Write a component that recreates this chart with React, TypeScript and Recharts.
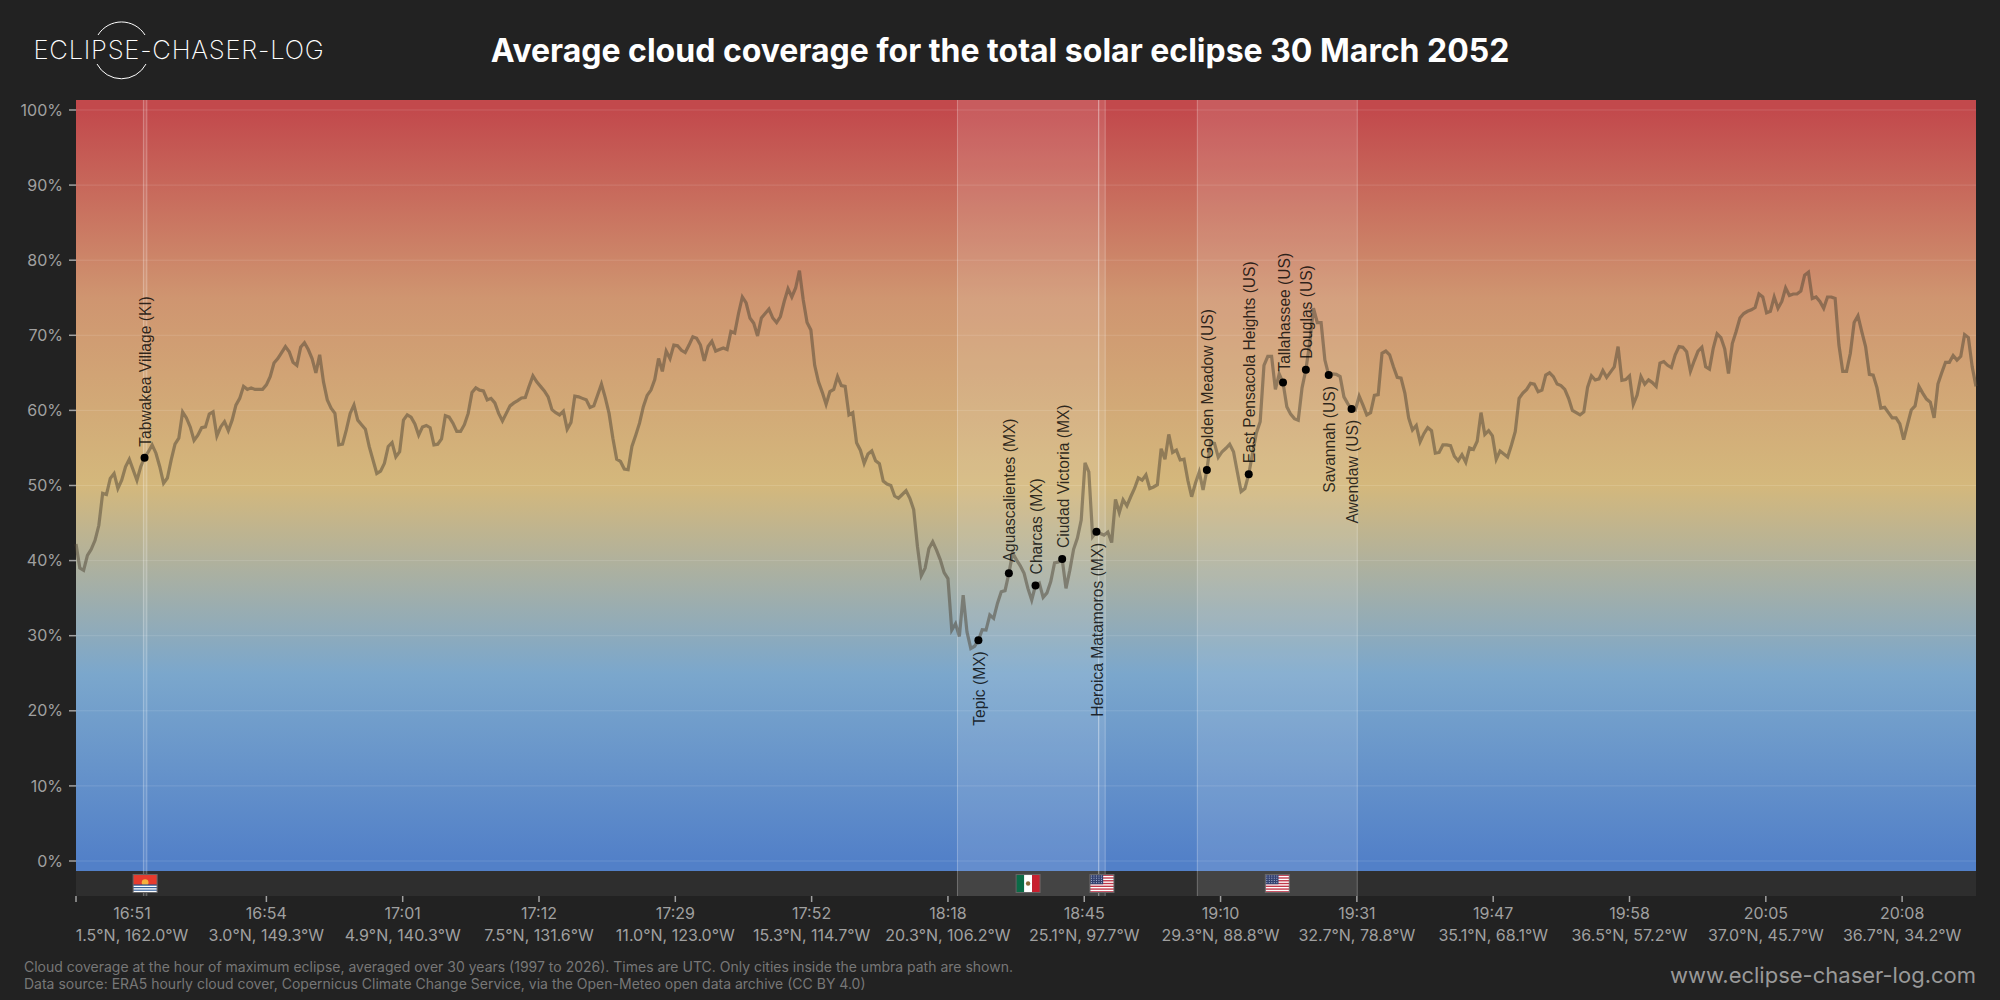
import { ComposedChart, Line, Scatter, XAxis, YAxis, ReferenceArea, ReferenceLine, ReferenceDot } from "recharts"

// cloud cover in %, one sample per step along the umbra path
const cloudCover = [
  42.2, 39, 38.7, 40.7, 41.5, 42.7, 44.7, 48.95, 48.8, 50.95, 51.6, 49.6, 50.7, 52.5, 53.5, 52.1, 50.7, 52.5, 53.7, 54.5,
  55.4, 54.3, 52.5, 50.3, 51, 53.4, 55.5, 56.3, 59.8, 59, 57.8, 56, 56.7, 57.7, 57.8, 59.5, 59.8, 56.6, 57.8, 58.5,
  57.3, 58.7, 60.7, 61.6, 63.2, 62.8, 63, 62.8, 62.8, 62.8, 63.4, 64.5, 66.3, 66.9, 67.7, 68.5, 67.8, 66.4, 66, 68.4,
  69, 68.1, 66.9, 65, 67.4, 63.8, 61.4, 60.3, 59.6, 55.4, 55.5, 57.4, 59.6, 60.7, 58.7, 58.1, 57.5, 55.2, 53.4, 51.6,
  51.9, 52.95, 55.2, 55.7, 53.8, 54.5, 58.7, 59.4, 59.1, 58.2, 56.7, 57.8, 58, 57.7, 55.4, 55.5, 56.2, 59.3, 59.1, 58.3,
  57.2, 57.2, 58.1, 59.6, 62.4, 63, 62.7, 62.6, 61.4, 61.6, 61, 59.6, 58.6, 59.6, 60.6, 61, 61.3, 61.65, 61.7, 63.2,
  64.6, 63.8, 63.2, 62.6, 61.8, 60.1, 59.7, 59.4, 59.9, 57.5, 58.4, 61.9, 61.8, 61.6, 61.4, 60.4, 60.6, 62.05, 63.5, 61.7,
  59.6, 56.3, 53.5, 53.2, 52.2, 52.1, 55.2, 56.7, 58.3, 60.5, 62, 62.7, 64.1, 66.9, 65.2, 67.9, 66.9, 68.7, 68.6, 68,
  67.7, 68.7, 69.8, 69.6, 68.7, 66.6, 68.5, 69.2, 67.9, 68.1, 68.3, 68.1, 70.5, 70.3, 72.9, 75.1, 74.3, 72.3, 71.6, 69.9,
  72.3, 72.9, 73.5, 72.3, 71.7, 72.5, 74.5, 76.2, 75.1, 76.3, 78.6, 74.7, 71.7, 70.7, 66, 63.8, 62.4, 60.8, 62.5, 62.8,
  64.5, 63.3, 63.2, 59.4, 59.7, 55.7, 54.7, 52.95, 54.2, 54.6, 53.3, 52.9, 50.6, 50.2, 50, 48.6, 48.3, 48.8, 49.3, 48.3,
  46.8, 41.85, 38, 39, 41.6, 42.5, 41.4, 40.1, 38.4, 37.6, 30.75, 31.6, 29.9, 35.4, 30.5, 28.3, 28.6, 29.4, 30.8, 30.75,
  32.75, 32.3, 34.3, 35.85, 36, 38.3, 41, 40.1, 39.3, 38.3, 36.3, 34.75, 36.7, 37, 35.1, 35.7, 37.2, 39.7, 39.8, 40.2,
  36.3, 38.7, 41.5, 43, 45.4, 53, 51.8, 43.2, 43.85, 43.6, 43.4, 43.8, 42.4, 48.15, 46.4, 48.1, 47.3, 48.5, 49.6, 51,
  50.7, 51.4, 49.6, 49.8, 50.1, 54.9, 53.5, 56.8, 54.4, 54.7, 53.4, 53.5, 50.7, 48.5, 50.3, 51.8, 49.4, 52.06, 55.7, 55.6,
  53.75, 54.5, 54.95, 55.5, 54.5, 51.8, 49.2, 49.6, 51.5, 54.3, 57, 58.5, 66, 67.2, 67.2, 62.8, 64.85, 63.7, 60.5, 59.5,
  58.9, 58.7, 63, 65.4, 68.9, 73.6, 71.7, 71.7, 66.7, 64.7, 64.85, 64.8, 64.5, 61.8, 60.9, 60.2, 60.05, 61.9, 60.7, 59.4,
  59.7, 62, 62.1, 67.6, 67.9, 67.4, 65.8, 64.4, 64.3, 62.3, 59, 57.4, 58, 55.8, 56.9, 57.7, 57.3, 54.3, 54.4, 55.4,
  55.4, 55.3, 53.9, 53.3, 54.1, 53.1, 55, 54.8, 55.9, 59.7, 56.8, 57.3, 56.6, 53.5, 54.6, 54.2, 53.8, 55.4, 57.2, 61.6,
  62.3, 62.8, 63.6, 63.5, 62.5, 62.7, 64.7, 65, 64.5, 63.5, 63.3, 62.8, 61.6, 60, 59.7, 59.4, 59.8, 63.1, 64.6, 64.05,
  64.2, 65.3, 64.4, 65.1, 65.8, 68.5, 64, 64.1, 64.6, 60.8, 62.05, 64.5, 63.5, 64.05, 63.7, 63.2, 66.3, 66.5, 66, 65.7,
  67.4, 68.5, 68.4, 67.8, 65.2, 66.6, 67.9, 68.4, 65.8, 65.5, 68.3, 70.2, 69.7, 68.2, 64.9, 68.9, 70.5, 72.3, 72.9, 73.2,
  73.4, 73.7, 75.5, 75.1, 73, 73.2, 75.1, 73.6, 74.5, 76.3, 75.3, 75.5, 75.5, 75.9, 78, 78.4, 74.9, 75.1, 74.5, 73.6,
  75.1, 75.1, 74.9, 68.7, 65.2, 65.2, 67.6, 71.7, 72.6, 70.5, 68.5, 64.8, 64.7, 63, 60.3, 60.4, 59.7, 59, 59, 58.2,
  56.1, 58.1, 60.05, 60.6, 63.2, 62.3, 61.5, 61.1, 59, 63.5, 65, 66.4, 66.4, 67.3, 66.7, 67.2, 70.1, 69.7, 65.8, 63.2,
]

const yTicks = [0, 10, 20, 30, 40, 50, 60, 70, 80, 90, 100]
const xTicks = [0, 50, 85.8, 121.6, 157.4, 193.2, 229, 264.8, 300.6, 336.4, 372.2, 408, 443.8, 479.6]
const tickTimes = ["16:51", "16:54", "17:01", "17:12", "17:29", "17:52", "18:18", "18:45", "19:10", "19:31", "19:47", "19:58", "20:05", "20:08"]
const tickPlaces = [
  "1.5°N, 162.0°W", "3.0°N, 149.3°W", "4.9°N, 140.3°W", "7.5°N, 131.6°W", "11.0°N, 123.0°W", "15.3°N, 114.7°W", "20.3°N, 106.2°W",
  "25.1°N, 97.7°W", "29.3°N, 88.8°W", "32.7°N, 78.8°W", "35.1°N, 68.1°W", "36.5°N, 57.2°W", "37.0°N, 45.7°W", "36.7°N, 34.2°W",
]

const cityNames = [
  "Tabwakea Village (KI)", "Tepic (MX)", "Aguascalientes (MX)", "Charcas (MX)", "Ciudad Victoria (MX)", "Heroica Matamoros (MX)",
  "Golden Meadow (US)", "East Pensacola Heights (US)", "Tallahassee (US)", "Douglas (US)", "Savannah (US)", "Awendaw (US)",
]
const cityPositions = [18, 237, 245, 252, 259, 268, 297, 308, 317, 323, 329, 335]
const cityCover = [53.7, 29.4, 38.3, 36.7, 40.2, 43.85, 52.06, 51.5, 63.7, 65.4, 64.7, 60.2]
const cityLabelBelow = [false, true, false, false, false, true, false, false, false, false, true, true]

const bandStarts = [17.7, 231.5, 268.6, 294.5]
const bandEnds = [18.6, 268.6, 270.3, 336.5]
const bandFlags = ["KI", "MX", "US", "US"]
const flagBands = [0, 1, 2, 3]

const yTop = 101.33
const yPlotBottom = -1.33
const yStripBottom = -4.66

const gradientValues = [101.33, 100, 75, 50, 25, 0, -1.33]
const gradientColors = ["#c2494c", "#c2494c", "#cf9570", "#d4b87c", "#7ba7cc", "#5280c8", "#5280c8"]

const rows = cloudCover.map((cover, i) => ({ pos: i, cover }))
const cityRows = cityNames.map((name, i) => ({
  name,
  pos: cityPositions[i],
  cover: cityCover[i],
  below: cityLabelBelow[i],
}))

const FONT = "Inter, sans-serif"

function XTick({ x, y, index }: any) {
  // first label sits left-aligned against the axis start
  const tx = index === 0 ? x + 56 : x
  return (
    <g fill="#a0a0a0" fontFamily={FONT} fontSize={16} textAnchor="middle">
      <text x={tx} y={y + 17}>{tickTimes[index]}</text>
      <text x={tx} y={y + 39}>{tickPlaces[index]}</text>
    </g>
  )
}

function CityMark({ cx, cy, payload }: any) {
  const labelY = payload.below ? cy + 11 : cy - 11
  return (
    <g>
      <circle cx={cx} cy={cy} r={4} fill="#000" />
      <text
        x={cx + 1}
        y={labelY}
        transform={`rotate(-90 ${cx + 1} ${labelY})`}
        textAnchor={payload.below ? "end" : "start"}
        dominantBaseline="central"
        fontFamily="Liberation Sans, sans-serif"
        fontSize={15.6}
        fill="#000"
        fillOpacity={0.8}
      >
        {payload.name}
      </text>
    </g>
  )
}

function Flag({ cx, cy, code }: any) {
  const w = 24
  const h = 18
  const x = cx - w / 2
  const y = cy - h / 2
  let body = null
  if (code === "MX") {
    body = (
      <g>
        <rect x={x} y={y} width={w / 3} height={h} fill="#0b6b47" />
        <rect x={x + w / 3} y={y} width={w / 3} height={h} fill="#fff" />
        <rect x={x + (2 * w) / 3} y={y} width={w / 3} height={h} fill="#c8202f" />
        <circle cx={cx} cy={cy} r={2.2} fill="#8a6a3a" />
      </g>
    )
  } else if (code === "US") {
    const stripes = [0, 1, 2, 3, 4, 5, 6]
    const starCols = [0, 1, 2, 3, 4]
    const starRows = [0, 1, 2, 3]
    body = (
      <g>
        <rect x={x} y={y} width={w} height={h} fill="#fff" />
        {stripes.map((s) => (
          <rect key={s} x={x} y={y + (s * 2 * h) / 13} width={w} height={h / 13} fill="#c0394b" />
        ))}
        <rect x={x} y={y} width={w * 0.55} height={h * 0.54} fill="#33416f" />
        {starRows.map((r) =>
          starCols.map((c) => (
            <rect key={`${r}-${c}`} x={x + 1 + c * 2.5} y={y + 1 + r * 2.2} width={1} height={1} fill="#a9b3d0" />
          ))
        )}
      </g>
    )
  } else {
    body = (
      <g>
        <rect x={x} y={y} width={w} height={h} fill="#e63b2e" />
        <circle cx={cx} cy={cy - 1} r={3.4} fill="#f5b13d" />
        <rect x={x} y={y + h * 0.55} width={w} height={h * 0.45} fill="#24528f" />
        <rect x={x} y={y + h * 0.62} width={w} height={1.4} fill="#fff" />
        <rect x={x} y={y + h * 0.76} width={w} height={1.4} fill="#fff" />
        <rect x={x} y={y + h * 0.9} width={w} height={1.4} fill="#fff" />
      </g>
    )
  }
  return (
    <g>
      {body}
      <rect x={x} y={y} width={w} height={h} fill="none" stroke="#666" strokeWidth={1} />
    </g>
  )
}

export default function App() {
  return (
    <div style={{ position: "absolute", left: 0, top: 0, width: 2000, height: 1000, background: "#222222", overflow: "hidden" }}>
      <ComposedChart
        width={2000}
        height={1000}
        data={rows}
        margin={{ top: 100, right: 24, bottom: 0, left: 0 }}
      >
        <defs>
          <linearGradient id="cover" x1="0" y1="0" x2="0" y2="1">
            {gradientValues.map((v, i) => (
              <stop key={v} offset={(yTop - v) / (yTop - yPlotBottom)} stopColor={gradientColors[i]} />
            ))}
          </linearGradient>
        </defs>

        <XAxis
          dataKey="pos"
          type="number"
          domain={[0, 499]}
          ticks={xTicks}
          interval={0}
          height={104}
          axisLine={false}
          tickSize={6}
          tickMargin={0}
          tickLine={{ stroke: "#a0a0a0", strokeWidth: 1.5 }}
          tick={<XTick />}
        />
        <YAxis
          type="number"
          domain={[yStripBottom, yTop]}
          ticks={yTicks}
          interval={0}
          width={76}
          axisLine={false}
          tickSize={7}
          tickMargin={6}
          tickLine={{ stroke: "#a0a0a0", strokeWidth: 1.5 }}
          tick={{ fill: "#a0a0a0", fontSize: 16, fontFamily: FONT }}
          tickFormatter={(v) => `${v}%`}
        />

        <ReferenceArea y1={yPlotBottom} y2={yTop} fill="url(#cover)" fillOpacity={1} stroke="none" />
        <ReferenceArea y1={yStripBottom} y2={yPlotBottom} fill="#2e2e2e" fillOpacity={1} stroke="none" />

        {yTicks.map((t) => (
          <ReferenceLine key={t} y={t} stroke="#fff" strokeOpacity={0.13} strokeWidth={1} />
        ))}

        {bandStarts.map((start, i) => (
          <ReferenceArea key={i} x1={start} x2={bandEnds[i]} y1={yStripBottom} y2={yTop} fill="#fff" fillOpacity={0.105} stroke="none" />
        ))}
        {bandStarts.concat(bandEnds).map((v, i) => (
          <ReferenceLine key={i} x={v} stroke="#fff" strokeOpacity={0.28} strokeWidth={1} />
        ))}

        {flagBands.map((b) => (
          <ReferenceDot
            key={b}
            x={(bandStarts[b] + bandEnds[b]) / 2}
            y={-3}
            r={0}
            shape={(props: any) => <Flag cx={props.cx} cy={props.cy} code={bandFlags[b]} />}
          />
        ))}

        <Line
          dataKey="cover"
          type="linear"
          stroke="#4d4333"
          strokeOpacity={0.5}
          strokeWidth={3.2}
          dot={false}
          isAnimationActive={false}
        />
        <Scatter data={cityRows} dataKey="cover" shape={<CityMark />} isAnimationActive={false} />
      </ComposedChart>

      <svg width={2000} height={1000} style={{ position: "absolute", left: 0, top: 0, pointerEvents: "none" }}>
        <path d="M98 35 A27.7 27.7 0 0 1 145 35" fill="none" stroke="#fff" strokeWidth={1} />
        <path d="M97 64 A27.7 27.7 0 0 0 146 64" fill="none" stroke="#fff" strokeWidth={1} />
        <text x={33.5} y={59.3} fill="#fff" fontFamily={FONT} fontWeight={200} fontSize={25.6} letterSpacing={0.75}>
          ECLIPSE-CHASER-LOG
        </text>
        <text x={1000} y={62} fill="#fff" fontFamily={FONT} fontWeight={700} fontSize={32} textAnchor="middle">
          Average cloud coverage for the total solar eclipse 30 March 2052
        </text>
        <text x={24} y={971.5} fill="#777" fontFamily={FONT} fontSize={14}>
          Cloud coverage at the hour of maximum eclipse, averaged over 30 years (1997 to 2026). Times are UTC. Only cities inside the umbra path are shown.
        </text>
        <text x={24} y={989} fill="#777" fontFamily={FONT} fontSize={14}>
          Data source: ERA5 hourly cloud cover, Copernicus Climate Change Service, via the Open-Meteo open data archive (CC BY 4.0)
        </text>
        <text x={1976} y={983} fill="#999" fontFamily={FONT} fontSize={22} textAnchor="end">
          www.eclipse-chaser-log.com
        </text>
      </svg>
    </div>
  )
}
